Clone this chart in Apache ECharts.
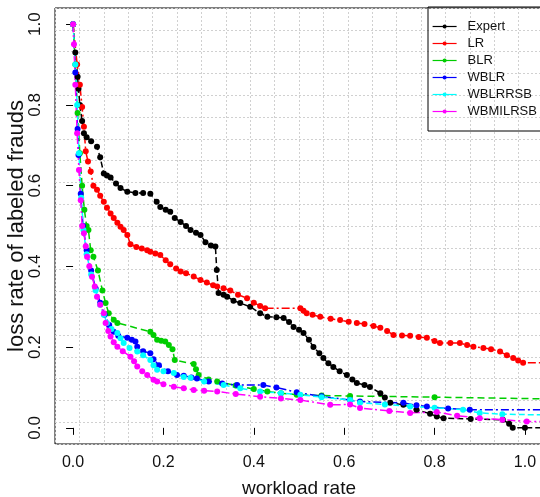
<!DOCTYPE html>
<html>
<head>
<meta charset="utf-8">
<script src="https://cdn.jsdelivr.net/npm/echarts@6/dist/echarts.min.js"></script>
<style>
  html, body { margin: 0; padding: 0; background: #fff; }
  #chart { width: 540px; height: 497px; }
</style>
</head>
<body>
<div id="chart"></div>
<script>
// series names (legend order)
const names = ['Expert', 'LR', 'BLR', 'WBLR', 'WBLRRSB', 'WBMILRSB'];
const colors = ['#000000', '#ff0000', '#00cd00', '#0000ff', '#00ffff', '#ff00ff'];
const tickValues = [0, 0.2, 0.4, 0.6, 0.8, 1.0];

// [workload rate, loss rate]
const expert = [[0,1.0],[0.005,0.93],[0.01,0.87],[0.012,0.84],[0.015,0.8],[0.02,0.76],[0.024,0.73],[0.03,0.72],[0.04,0.71],[0.053,0.696],[0.06,0.67],[0.068,0.63],[0.075,0.625],[0.083,0.62],[0.095,0.605],[0.105,0.594],[0.12,0.585],[0.138,0.582],[0.155,0.582],[0.171,0.58],[0.185,0.56],[0.193,0.547],[0.205,0.54],[0.215,0.535],[0.225,0.52],[0.238,0.51],[0.25,0.5],[0.26,0.49],[0.272,0.483],[0.282,0.478],[0.293,0.46],[0.305,0.452],[0.315,0.449],[0.318,0.391],[0.322,0.334],[0.333,0.33],[0.341,0.325],[0.355,0.315],[0.37,0.309],[0.392,0.3],[0.414,0.284],[0.43,0.275],[0.45,0.274],[0.466,0.272],[0.478,0.262],[0.488,0.25],[0.5,0.243],[0.51,0.235],[0.522,0.218],[0.532,0.2],[0.545,0.185],[0.554,0.173],[0.565,0.16],[0.576,0.151],[0.59,0.14],[0.606,0.131],[0.618,0.12],[0.628,0.111],[0.645,0.106],[0.657,0.101],[0.68,0.086],[0.69,0.075],[0.702,0.062],[0.731,0.057],[0.76,0.045],[0.79,0.035],[0.805,0.028],[0.82,0.024],[0.88,0.022],[0.951,0.02],[0.965,0.01],[0.973,0.0],[1.0,0.0],[1.04,0.0]];
const lr = [[0,1.0],[0.009,0.9],[0.015,0.85],[0.02,0.795],[0.024,0.746],[0.028,0.685],[0.033,0.66],[0.039,0.635],[0.045,0.6],[0.053,0.59],[0.06,0.575],[0.068,0.56],[0.075,0.545],[0.083,0.531],[0.09,0.52],[0.098,0.508],[0.105,0.498],[0.112,0.49],[0.12,0.478],[0.127,0.455],[0.14,0.448],[0.152,0.444],[0.164,0.44],[0.171,0.436],[0.182,0.432],[0.193,0.428],[0.205,0.415],[0.215,0.405],[0.228,0.395],[0.238,0.387],[0.25,0.383],[0.267,0.375],[0.282,0.366],[0.296,0.36],[0.31,0.353],[0.319,0.35],[0.333,0.346],[0.348,0.34],[0.365,0.33],[0.385,0.321],[0.4,0.31],[0.414,0.302],[0.425,0.296],[0.503,0.296],[0.51,0.29],[0.517,0.284],[0.53,0.28],[0.547,0.275],[0.57,0.27],[0.591,0.267],[0.61,0.263],[0.628,0.26],[0.645,0.257],[0.665,0.252],[0.68,0.248],[0.695,0.24],[0.709,0.23],[0.728,0.229],[0.746,0.228],[0.765,0.225],[0.783,0.223],[0.8,0.215],[0.812,0.21],[0.835,0.21],[0.856,0.21],[0.872,0.205],[0.886,0.201],[0.908,0.198],[0.925,0.195],[0.945,0.189],[0.96,0.18],[0.974,0.173],[0.985,0.167],[0.996,0.161],[1.04,0.161]];
const blr = [[0,1.0],[0.005,0.9],[0.01,0.78],[0.015,0.68],[0.02,0.6],[0.025,0.54],[0.03,0.5],[0.034,0.49],[0.039,0.44],[0.045,0.424],[0.055,0.39],[0.065,0.34],[0.072,0.309],[0.079,0.284],[0.09,0.268],[0.098,0.26],[0.171,0.238],[0.178,0.23],[0.186,0.218],[0.195,0.216],[0.204,0.214],[0.212,0.205],[0.22,0.195],[0.225,0.168],[0.267,0.158],[0.272,0.145],[0.278,0.131],[0.3,0.12],[0.319,0.115],[0.36,0.105],[0.4,0.096],[0.43,0.09],[0.46,0.086],[0.495,0.082],[0.55,0.08],[0.613,0.079],[0.8,0.076],[1.04,0.072]];
const wblr = [[0,1.0],[0.005,0.88],[0.01,0.74],[0.012,0.676],[0.017,0.58],[0.022,0.5],[0.03,0.44],[0.04,0.39],[0.05,0.345],[0.06,0.31],[0.07,0.28],[0.08,0.255],[0.09,0.238],[0.1,0.228],[0.12,0.223],[0.13,0.218],[0.138,0.214],[0.142,0.201],[0.155,0.19],[0.171,0.185],[0.178,0.17],[0.19,0.155],[0.21,0.14],[0.23,0.131],[0.245,0.129],[0.262,0.125],[0.274,0.122],[0.3,0.115],[0.33,0.11],[0.363,0.106],[0.421,0.106],[0.45,0.1],[0.495,0.088],[0.55,0.078],[0.613,0.069],[0.635,0.065],[0.731,0.062],[0.76,0.056],[0.783,0.053],[0.83,0.048],[0.878,0.045],[1.04,0.045]];
const wblrrsb = [[0,1.0],[0.005,0.9],[0.009,0.8],[0.013,0.68],[0.018,0.57],[0.023,0.49],[0.03,0.43],[0.04,0.38],[0.05,0.34],[0.06,0.305],[0.068,0.28],[0.075,0.26],[0.085,0.245],[0.098,0.235],[0.105,0.222],[0.112,0.21],[0.125,0.198],[0.142,0.189],[0.155,0.18],[0.171,0.168],[0.178,0.155],[0.186,0.144],[0.2,0.14],[0.223,0.136],[0.245,0.126],[0.26,0.124],[0.29,0.115],[0.333,0.106],[0.37,0.098],[0.414,0.09],[0.46,0.086],[0.503,0.082],[0.55,0.076],[0.613,0.069],[0.635,0.062],[0.69,0.058],[0.746,0.053],[0.8,0.05],[0.863,0.045],[0.9,0.037],[0.95,0.034],[1.04,0.032]];
const wbmilrsb = [[0,1.0],[0.002,0.95],[0.005,0.85],[0.009,0.73],[0.013,0.639],[0.017,0.564],[0.02,0.5],[0.024,0.482],[0.028,0.45],[0.031,0.424],[0.036,0.4],[0.042,0.374],[0.048,0.35],[0.053,0.325],[0.06,0.305],[0.068,0.284],[0.072,0.26],[0.078,0.24],[0.083,0.226],[0.09,0.212],[0.098,0.201],[0.11,0.19],[0.127,0.176],[0.135,0.165],[0.142,0.152],[0.153,0.14],[0.164,0.131],[0.178,0.119],[0.186,0.115],[0.2,0.108],[0.223,0.102],[0.245,0.098],[0.267,0.094],[0.29,0.092],[0.319,0.09],[0.36,0.084],[0.414,0.077],[0.46,0.073],[0.503,0.069],[0.569,0.057],[0.613,0.058],[0.635,0.049],[0.7,0.042],[0.746,0.037],[0.805,0.039],[0.85,0.03],[0.9,0.024],[0.95,0.02],[1.004,0.016],[1.04,0.016]];

const allData = [expert, lr, blr, wblr, wblrrsb, wbmilrsb];
const dashes = [[6, 3], [8, 3, 2, 3], [7, 4], [8, 3, 2, 3], [6, 3], [8, 3, 2, 3]];

const font = "'Liberation Sans', Arial, sans-serif";

const chart = echarts.init(document.getElementById('chart'), null, {renderer: 'canvas'});

const series = allData.map((d, i) => ({
  name: names[i],
  type: 'line',
  xAxisIndex: 0,
  yAxisIndex: 0,
  data: d,
  showAllSymbol: true,
  symbol: 'circle',
  symbolSize: (v, p) => (p.dataIndex === d.length - 1 ? 0 : 6),
  clip: true,
  animation: false,
  itemStyle: {color: colors[i]},
  lineStyle: {color: colors[i], width: 1.5, type: dashes[i]},
  emphasis: {disabled: true}
}));

chart.setOption({
  backgroundColor: '#fff',
  animation: false,
  grid: {
    left: 55, top: 8, width: 488, height: 436,
    outerBoundsMode: 'none', containLabel: false,
    show: true, borderColor: '#000', borderWidth: 1, backgroundColor: 'transparent'
  },
  legend: {
    data: names,
    orient: 'vertical',
    left: 428, top: 7,
    itemWidth: 24, itemHeight: 5, itemGap: 4,
    borderColor: '#000', borderWidth: 1, borderRadius: 0,
    padding: [13, 60, 13, 4],
    backgroundColor: 'transparent',
    lineStyle: {type: 'solid', width: 1.2},
    textStyle: {fontFamily: font, fontSize: 13, color: '#111', padding: [0, 0, 0, 6]}
  },
  xAxis: [{
    type: 'value', min: -0.04, max: 1.04,
    name: 'workload rate', nameLocation: 'middle', nameGap: 35,
    nameTextStyle: {fontFamily: font, fontSize: 19, color: '#111'},
    axisLine: {show: false},
    axisTick: {show: true, length: 7, customValues: tickValues, lineStyle: {color: '#000'}},
    axisLabel: {customValues: tickValues, margin: 11, fontFamily: font, fontSize: 16, color: '#111',
      formatter: v => v.toFixed(1)},
    splitLine: {show: false}
  }, {
    type: 'value', min: 0, max: 20, interval: 1, position: 'top',
    axisLine: {show: false}, axisTick: {show: false}, axisLabel: {show: false},
    splitLine: {show: true, lineStyle: {color: '#d0d0d0', type: [2, 2], width: 1}}
  }],
  yAxis: [{
    type: 'value', min: -0.04, max: 1.04,
    name: 'loss rate of labeled frauds', nameLocation: 'middle', nameGap: 27, nameRotate: 90,
    nameMoveOverlap: false,
    nameTextStyle: {fontFamily: font, fontSize: 22, color: '#111'},
    axisLine: {show: false},
    axisTick: {show: true, length: 7, customValues: tickValues, lineStyle: {color: '#000'}},
    axisLabel: {customValues: tickValues, rotate: 90, margin: 11, fontFamily: font, fontSize: 17, color: '#111',
      formatter: v => v.toFixed(1)},
    splitLine: {show: false}
  }, {
    type: 'value', min: 0, max: 20, interval: 1, position: 'right',
    axisLine: {show: false}, axisTick: {show: false}, axisLabel: {show: false},
    splitLine: {show: true, lineStyle: {color: '#d0d0d0', type: [2, 2], width: 1}}
  }],
  series: series
});
</script>
</body>
</html>
